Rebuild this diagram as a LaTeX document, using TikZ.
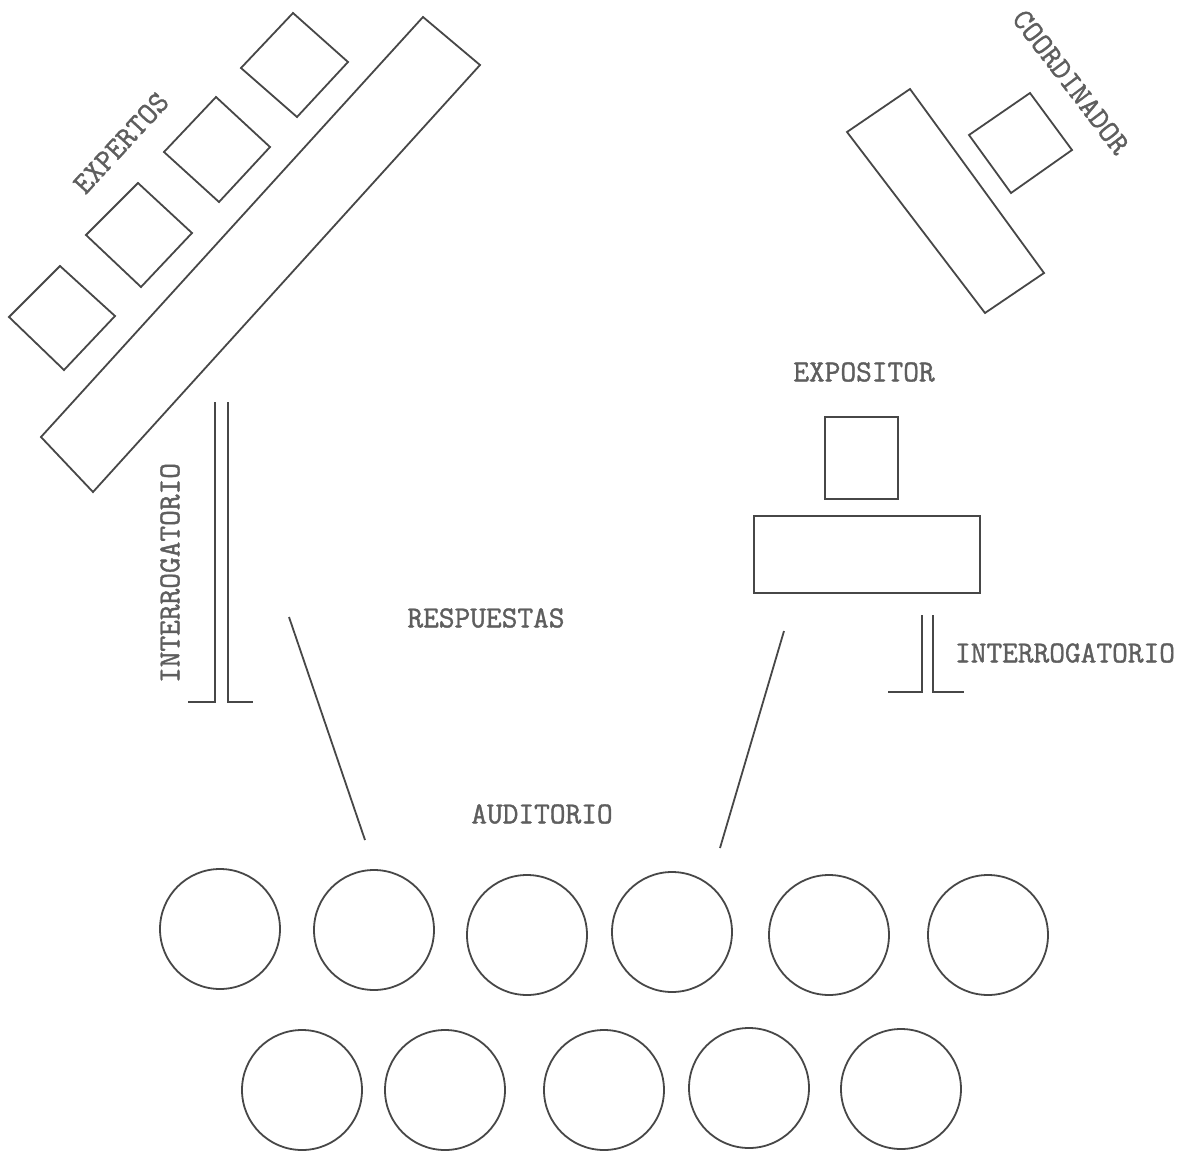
\documentclass[tikz,border=0pt]{standalone}
\usepackage{fontspec}
\newfontfamily\twfont{Latin Modern Mono}[FakeBold=1.3]
\definecolor{inkline}{HTML}{474747}
\definecolor{inktext}{HTML}{5E5E5E}
\begin{document}
\begin{tikzpicture}[x=1pt,y=-1pt,
  ln/.style={draw=inkline,line width=1.8pt,line join=miter},
  lbl/.style={text=inktext,font=\twfont\fontsize{30.5}{34}\selectfont,inner sep=0pt},
  seat/.style={circle,draw=inkline,line width=1.8pt,minimum size=120pt,inner sep=0pt}]
\useasboundingbox[fill=white] (0,0) rectangle (1189,1154);

% Expertos: long table and four chairs
\draw[ln] (423,17) -- (480,65) -- (93,492) -- (41,437) -- cycle;
\draw[ln] (9,317) -- (60,266) -- (115,316) -- (64,370) -- cycle;
\draw[ln] (86,235) -- (138,183) -- (192,233) -- (141,287) -- cycle;
\draw[ln] (164,152) -- (216,97) -- (270,147) -- (219,202) -- cycle;
\draw[ln] (241,68) -- (293,13) -- (348,62) -- (297,117) -- cycle;
\node[lbl,rotate=47.4] (expertos) at (121,143) {EXPERTOS};

% Coordinador
\draw[ln] (847,132) -- (910,89) -- (1044,273) -- (985,313) -- cycle;
\draw[ln] (969,135) -- (1030,93) -- (1072,150) -- (1011,193) -- cycle;
\node[lbl,rotate=-52.7] (coord) at (1071,82) {COORDINADOR};

% Expositor
\node[lbl] (expositor) at (864,372) {EXPOSITOR};
\draw[ln] (825,417) rectangle (898,499);
\draw[ln] (754,516) rectangle (980,593);

% Interrogatorio (left)
\draw[ln] (215,402) -- (215,702) -- (188,702);
\draw[ln] (228,402) -- (228,702) -- (253,702);
\node[lbl,rotate=90] (interl) at (170,573) {INTERROGATORIO};

% Interrogatorio (right)
\draw[ln] (922,615) -- (922,692) -- (888,692);
\draw[ln] (933,615) -- (933,692) -- (964,692);
\node[lbl] (interr) at (1065,653) {INTERROGATORIO};

% Respuestas
\node[lbl] (resp) at (486,618) {RESPUESTAS};
\coordinate (la) at (289,617);
\coordinate (lb) at (365,840);
\coordinate (ra) at (784,631);
\coordinate (rb) at (720,848);
\draw[ln] (la) -- (lb);
\draw[ln] (ra) -- (rb);

% Auditorio
\node[lbl] (aud) at (542,814) {AUDITORIO};
\node[seat] (s1) at (220,929) {};
\node[seat] (s2) at (374,930) {};
\node[seat] (s3) at (527,935) {};
\node[seat] (s4) at (672,932) {};
\node[seat] (s5) at (829,935) {};
\node[seat] (s6) at (988,935) {};
\node[seat] (t1) at (302,1090) {};
\node[seat] (t2) at (445,1090) {};
\node[seat] (t3) at (604,1090) {};
\node[seat] (t4) at (749,1088) {};
\node[seat] (t5) at (901,1089) {};
\end{tikzpicture}
\end{document}
